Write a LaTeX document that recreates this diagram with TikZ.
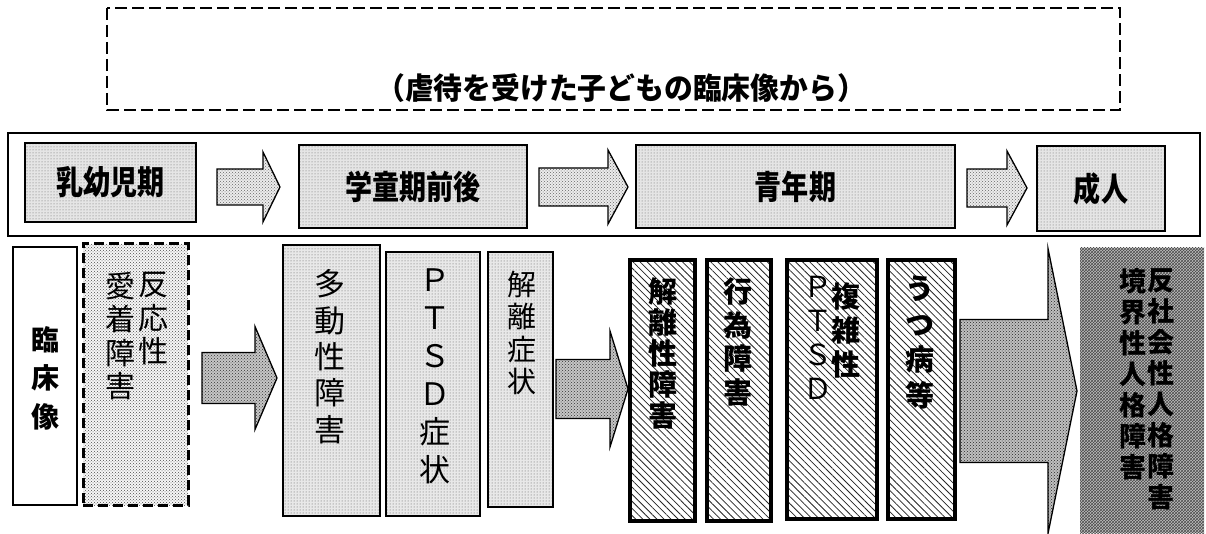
\documentclass[tikz,border=0pt]{standalone}
\usepackage{fontspec}
\setmainfont{Noto Sans CJK JP}
\usetikzlibrary{patterns,patterns.meta}
\tikzset{
  base/.style={inner sep=0pt, outer sep=0pt, anchor=north west},
  dashtitle/.style={draw=black, line width=2.8pt, dash pattern=on 12pt off 5pt},
  outerbox/.style={base, draw=black, line width=1.8pt},
  stagebox/.style={base, draw=black, line width=1.6pt, preaction={fill=gray!20}, pattern=dots, pattern color=black!60},
  stagetext/.style={inner sep=0pt, font=\bfseries\fontsize{33}{33}\selectfont},
  toparrow/.style={draw=black, line width=1.3pt, preaction={fill=gray!15}, pattern=crosshatch dots, pattern color=black!60},
  labelbox/.style={base, draw=black, line width=1.8pt, fill=white},
  dashbox/.style={base, draw=black, line width=3pt, dash pattern=on 10pt off 5pt, preaction={fill=gray!6}, pattern=crosshatch dots, pattern color=black!70},
  dotbox/.style={base, draw=black, line width=1.6pt, preaction={fill=gray!18}, pattern=dots, pattern color=black!65},
  midarrow/.style={draw=black, line width=1.3pt, preaction={fill=gray!45}, pattern=crosshatch dots, pattern color=black!80},
  thickbox/.style={base, draw=black, line width=4pt, preaction={fill=white}, pattern={Lines[angle=-45,distance=5pt,line width=0.8pt]}, pattern color=black!85},
  bigarrow/.style={draw=black, line width=1.3pt, preaction={fill=gray!50}, pattern=crosshatch dots, pattern color=black!85},
  darkbox/.style={base, preaction={fill=gray!50}, pattern=crosshatch, pattern color=black!70},
  coltext/.style={inner sep=0pt, anchor=north, align=center},
}
\newcommand{\blockarrow}[7]{% style, x1, x2, x3, yc, shaft half, head half
  \draw[#1] (#2,#5-#6) -- (#3,#5-#6) -- (#3,#5-#7) -- (#4,#5) -- (#3,#5+#7) -- (#3,#5+#6) -- (#2,#5+#6) -- cycle;}
\newcommand{\narrowtext}[1]{\scalebox{0.82}[1]{#1}}
\begin{document}
\begin{tikzpicture}[x=1pt,y=-1pt]
\useasboundingbox (0,0) rectangle (1206,534);
\fill[white] (0,0) rectangle (1206,534);

% title box
\draw[dashtitle] (107,8) rectangle (1120,110);
\node[inner sep=0pt, font=\bfseries\fontsize{30}{30}\selectfont] (title) at (621,88) {\scalebox{0.96}[1]{（虐待を受けた子どもの臨床像から）}};

% stage band
\node[outerbox, minimum width=1192, minimum height=103] (band) at (8,133) {};
\node[stagebox, minimum width=171, minimum height=79] (s1) at (25,143) {};
\node[stagetext] (t1) at (s1.center) {\narrowtext{乳幼児期}};
\node[stagebox, minimum width=228, minimum height=83] (s2) at (299,145) {};
\node[stagetext] (t2) at (s2.center) {\narrowtext{学童期前後}};
\node[stagebox, minimum width=319, minimum height=83] (s3) at (636,145) {};
\node[stagetext] (t3) at (s3.center) {\narrowtext{青年期}};
\node[stagebox, minimum width=128, minimum height=85] (s4) at (1037,146) {};
\node[stagetext] (t4) at (s4.center) {\narrowtext{成人}};
\blockarrow{toparrow}{217}{263}{280}{187}{18}{35}
\blockarrow{toparrow}{539}{608}{628}{187}{19}{37}
\blockarrow{toparrow}{967}{1007}{1027}{188}{19}{37}

% clinical row
\node[labelbox, minimum width=64, minimum height=258] (b0) at (13,247) {};
\node[coltext, font=\bfseries\fontsize{28}{38.5}\selectfont] (c0) at (45,326) {臨\\床\\像};
\node[dashbox, minimum width=105, minimum height=261] (b1) at (83,244) {};
\node[coltext, font=\fontsize{30}{33.5}\selectfont] (c1a) at (120,272) {愛\\着\\障\\害};
\node[coltext, font=\fontsize{30}{33.5}\selectfont] (c1b) at (153,272) {反\\応\\性};
\blockarrow{midarrow}{202}{255}{277}{378}{25.5}{51.5}
\node[dotbox, minimum width=97, minimum height=271] (b2) at (283,245) {};
\node[coltext, font=\fontsize{31}{36.3}\selectfont] (c2) at (330,269.5) {多\\動\\性\\障\\害};
\node[dotbox, minimum width=94, minimum height=264] (b3) at (386,252) {};
\node[coltext, font=\fontsize{31}{38}\selectfont] (c3) at (435,268.5) {Ｐ\\Ｔ\\Ｓ\\Ｄ\\症\\状};
\node[dotbox, minimum width=65, minimum height=255] (b4) at (488,252) {};
\node[coltext, font=\fontsize{29}{32.5}\selectfont] (c4) at (522,270.5) {解\\離\\症\\状};
\blockarrow{midarrow}{556}{610}{628}{389}{29.5}{58}
\node[thickbox, minimum width=65, minimum height=261] (b5) at (630,260) {};
\node[coltext, font=\bfseries\fontsize{29}{31}\selectfont] (c5) at (663,277.5) {解\\離\\性\\障\\害};
\node[thickbox, minimum width=64, minimum height=261] (b6) at (707,260) {};
\node[coltext, font=\bfseries\fontsize{29}{33.7}\selectfont] (c6) at (738,277.5) {行\\為\\障\\害};
\node[thickbox, minimum width=90, minimum height=259] (b7) at (787,260) {};
\node[coltext, font=\fontsize{29}{34.3}\selectfont] (c7a) at (818,275.5) {Ｐ\\Ｔ\\Ｓ\\Ｄ};
\node[coltext, font=\bfseries\fontsize{29}{34}\selectfont] (c7b) at (846,282.5) {複\\雑\\性};
\node[thickbox, minimum width=67, minimum height=259] (b8) at (888,260) {};
\node[coltext, font=\bfseries\fontsize{29}{35.7}\selectfont] (c8) at (920,275.5) {う\\つ\\病\\等};
\blockarrow{bigarrow}{960}{1048}{1077}{391}{71.5}{142.5}
\node[darkbox, minimum width=124, minimum height=285] (b9) at (1080,248) {};
\node[coltext, font=\bfseries\fontsize{27}{31}\selectfont] (c9a) at (1133,268.5) {境\\界\\性\\人\\格\\障\\害};
\node[coltext, font=\bfseries\fontsize{27}{31}\selectfont] (c9b) at (1161,268.5) {反\\社\\会\\性\\人\\格\\障\\害};
\end{tikzpicture}
\end{document}
